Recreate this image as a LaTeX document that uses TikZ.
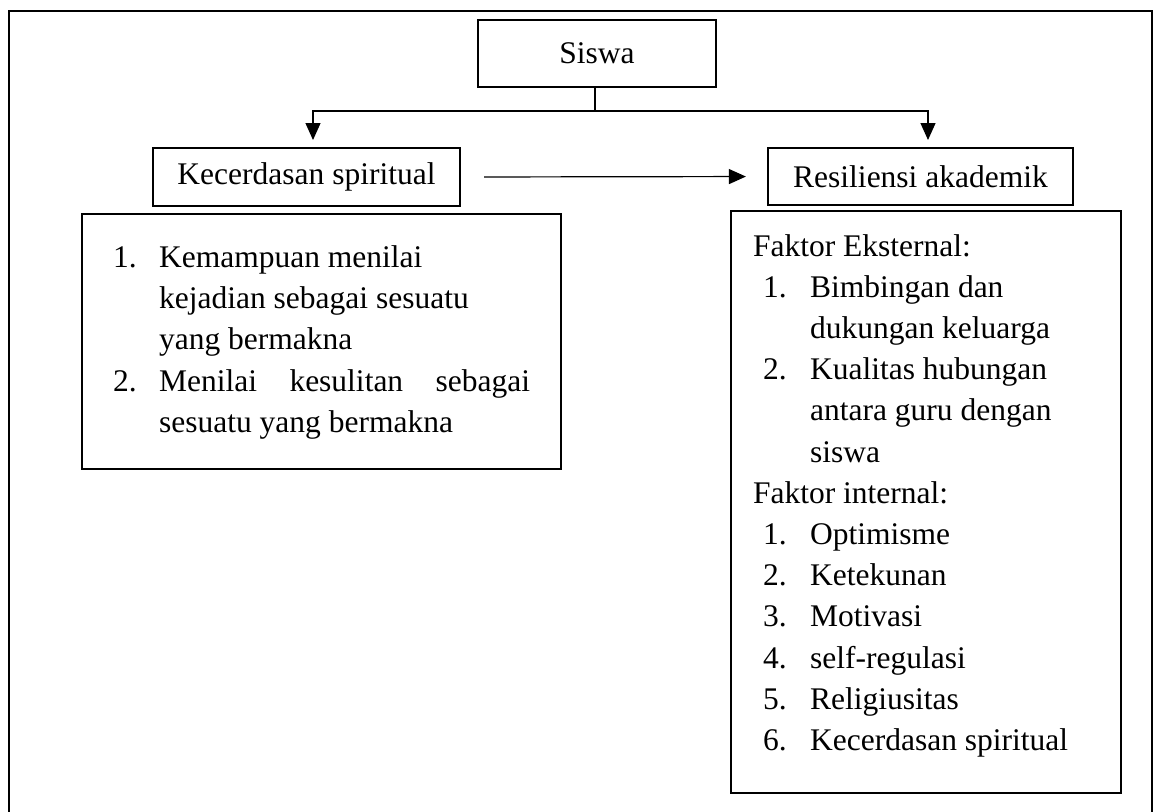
\documentclass[tikz,border=0pt]{standalone}
\usepackage{fontspec}
\setmainfont{Liberation Serif}
\usetikzlibrary{arrows.meta}

\tikzset{
  box/.style={draw, line width=1.1pt, inner sep=0pt, align=center},
  infobox/.style={draw, line width=1.1pt, inner sep=0pt, anchor=north west},
  link/.style={line width=0.6pt},
}

\begin{document}
\begin{tikzpicture}[>={Triangle[length=8.5pt,width=7.5pt]}, x=0.5pt, y=-0.5pt,
  font=\fontsize{15.75pt}{20.6pt}\selectfont]
\useasboundingbox (0,0) rectangle (1155,811);
\draw[line width=1pt] (9,815) -- (9,11) -- (1152,11) -- (1152,815);

\node[box, minimum width=119pt, minimum height=33.5pt] (siswa) at (597,53.5) {Siswa};
\node[box, minimum width=153.5pt, minimum height=29pt] (kec) at (306.5,177) {Kecerdasan spiritual};
\node[box, minimum width=152.5pt, minimum height=28.5pt] (res) at (920.5,176.5) {Resiliensi akademik};

% isi kotak kiri
\node[infobox, minimum width=239.5pt, minimum height=127.5pt] (kecinfo) at (81,213) {%
\begin{tabular}{@{}p{23pt}@{}p{185.5pt}@{}}
1. & Kemampuan menilai\\
   & kejadian sebagai sesuatu\\
   & yang bermakna\\
2. & \makebox[\linewidth][s]{Menilai kesulitan sebagai}\\
   & sesuatu yang bermakna
\end{tabular}};

% isi kotak kanan
\node[infobox, minimum width=195pt, minimum height=291pt] (resinfo) at (730,210) {%
\begin{tabular}{@{\hspace{5pt}}p{23.5pt}@{}p{144.5pt}@{}}
\multicolumn{2}{@{}l@{}}{Faktor Eksternal:}\\
1. & Bimbingan dan\\
   & dukungan keluarga\\
2. & Kualitas hubungan\\
   & antara guru dengan\\
   & siswa\\
\multicolumn{2}{@{}l@{}}{Faktor internal:}\\
1. & Optimisme\\
2. & Ketekunan\\
3. & Motivasi\\
4. & self-regulasi\\
5. & Religiusitas\\
6. & Kecerdasan spiritual\\[7pt]
\end{tabular}};

\coordinate (split) at (595,111);
\coordinate (kin) at (313,140);
\coordinate (rin) at (928,140);

\draw[link] (siswa.south -| split) -- (split);
\draw[link,->] (split) -| (kin);
\draw[link,->] (split) -| (rin);
\draw[link,->, shorten <=11.5pt, shorten >=10.5pt] (kec.east) -- (res.west);
\end{tikzpicture}
\end{document}
